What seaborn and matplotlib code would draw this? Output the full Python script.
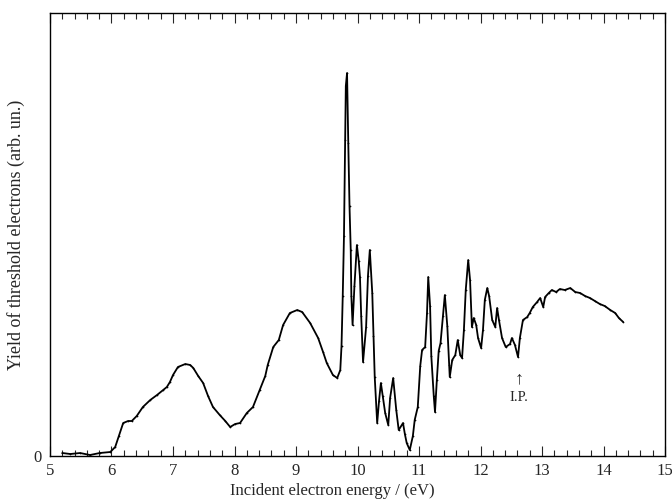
"""Threshold electron yield versus incident electron energy."""
import matplotlib
matplotlib.use("Agg")
import matplotlib.pyplot as plt
from matplotlib.ticker import MultipleLocator
import pandas as pd
import seaborn as sns

energy = [
    5.20, 5.33, 5.49, 5.65, 5.81, 5.98, 6.06, 6.12, 6.19, 6.27, 6.33, 6.41,
    6.51, 6.63, 6.74, 6.84, 6.90, 6.95, 7.00, 7.08, 7.20, 7.28, 7.33, 7.41,
    7.49, 7.57, 7.65, 7.76, 7.85, 7.93, 8.01, 8.09, 8.20, 8.30, 8.41, 8.50,
    8.54, 8.63, 8.72, 8.79, 8.90, 9.02, 9.10, 9.23, 9.36, 9.44, 9.50, 9.60,
    9.67, 9.72, 9.74, 9.76, 9.78, 9.80, 9.81, 9.83, 9.85, 9.87, 9.89, 9.90,
    9.92, 9.95, 9.99, 10.02, 10.04, 10.06, 10.09, 10.14, 10.17, 10.20, 10.24,
    10.26, 10.28, 10.32, 10.35, 10.38, 10.41, 10.45, 10.50, 10.53, 10.58,
    10.63, 10.67, 10.74, 10.77, 10.80, 10.85, 10.90, 10.93, 10.98, 11.02,
    11.05, 11.10, 11.13, 11.15, 11.18, 11.20, 11.24, 11.26, 11.29, 11.32,
    11.35, 11.39, 11.42, 11.46, 11.49, 11.50, 11.54, 11.59, 11.63, 11.67,
    11.70, 11.73, 11.76, 11.80, 11.83, 11.86, 11.89, 11.93, 11.96, 12.01,
    12.04, 12.07, 12.11, 12.14, 12.19, 12.24, 12.27, 12.30, 12.35, 12.41,
    12.48, 12.51, 12.56, 12.61, 12.64, 12.69, 12.76, 12.80, 12.85, 12.92,
    12.97, 13.02, 13.05, 13.11, 13.16, 13.23, 13.29, 13.37, 13.46, 13.54,
    13.62, 13.70, 13.78, 13.86, 13.94, 14.02, 14.11, 14.19, 14.25, 14.32,
]
yield_ = [
    3, 2, 3, 1, 3, 4, 9, 20, 33, 35, 35, 40,
    49, 56, 61, 66, 69, 74, 81, 89, 92, 91, 88, 80,
    73, 60, 49, 41, 35, 29, 32, 33, 43, 49, 66, 80,
    91, 109, 116, 131, 143, 146, 144, 133, 118, 104, 93, 81,
    78, 86, 110, 160, 220, 316, 370, 383, 313, 250, 206, 160,
    131, 170, 211, 195, 179, 140, 94, 129, 180, 206, 163,
    120, 79, 33, 55, 73, 60, 43, 31, 58, 78,
    46, 26, 33, 22, 13, 6, 20, 36, 49, 90,
    106, 109, 143, 179, 150, 100, 60, 44, 76, 105,
    113, 140, 161, 130, 91, 79, 96, 101, 116, 101,
    98, 126, 166, 196, 176, 129, 138, 131, 118, 108,
    126, 156, 168, 160, 136, 129, 148, 136, 118, 109,
    112, 118, 111, 99, 118, 136, 139, 143, 149, 154,
    158, 149, 159, 163, 166, 164, 167, 166, 168, 164,
    163, 160, 158, 155, 152, 150, 146, 143, 138, 134,
]
ip_energy = 12.63

sns.set_style("ticks")
plt.rcParams["font.family"] = ["Liberation Serif", "DejaVu Serif"]
plt.rcParams["font.size"] = 12

data = pd.DataFrame({"energy": energy, "yield": yield_})

fig = plt.figure(figsize=(6.72, 5.01), dpi=100)
ax = fig.add_axes([0.0744, 0.0898, 0.9152, 0.8842])

sns.lineplot(data=data, x="energy", y="yield", color="black", linewidth=1.3,
             marker=".", markersize=2.5, markeredgewidth=0, ax=ax)

ax.set_xlim(5, 15)
ax.set_ylim(0, 443)
ax.xaxis.set_major_locator(MultipleLocator(1))
ax.xaxis.set_minor_locator(MultipleLocator(0.2))
ax.set_yticks([0])
ax.tick_params(axis="x", which="both", direction="in", top=True, bottom=True,
               labelsize=12, pad=5)
ax.tick_params(axis="x", which="major", length=7, width=0.8)
ax.tick_params(axis="x", which="minor", length=4, width=0.8)
ax.tick_params(axis="y", length=0, labelsize=12, pad=6)
for spine in ax.spines.values():
    spine.set_linewidth(1.0)
    spine.set_color("black")

ax.set_xlabel("Incident electron energy / (eV)", fontsize=12, labelpad=4)
ax.xaxis.set_label_coords(0.459, -0.062)
ax.set_ylabel("Yield of threshold electrons (arb. un.)", fontsize=13, labelpad=6)

ax.text(ip_energy, 77, "↑", ha="center", va="center", fontsize=13)
ax.text(ip_energy, 59, "I.P.", ha="center", va="center", fontsize=10.5)

fig.savefig("out.png", dpi=100)
